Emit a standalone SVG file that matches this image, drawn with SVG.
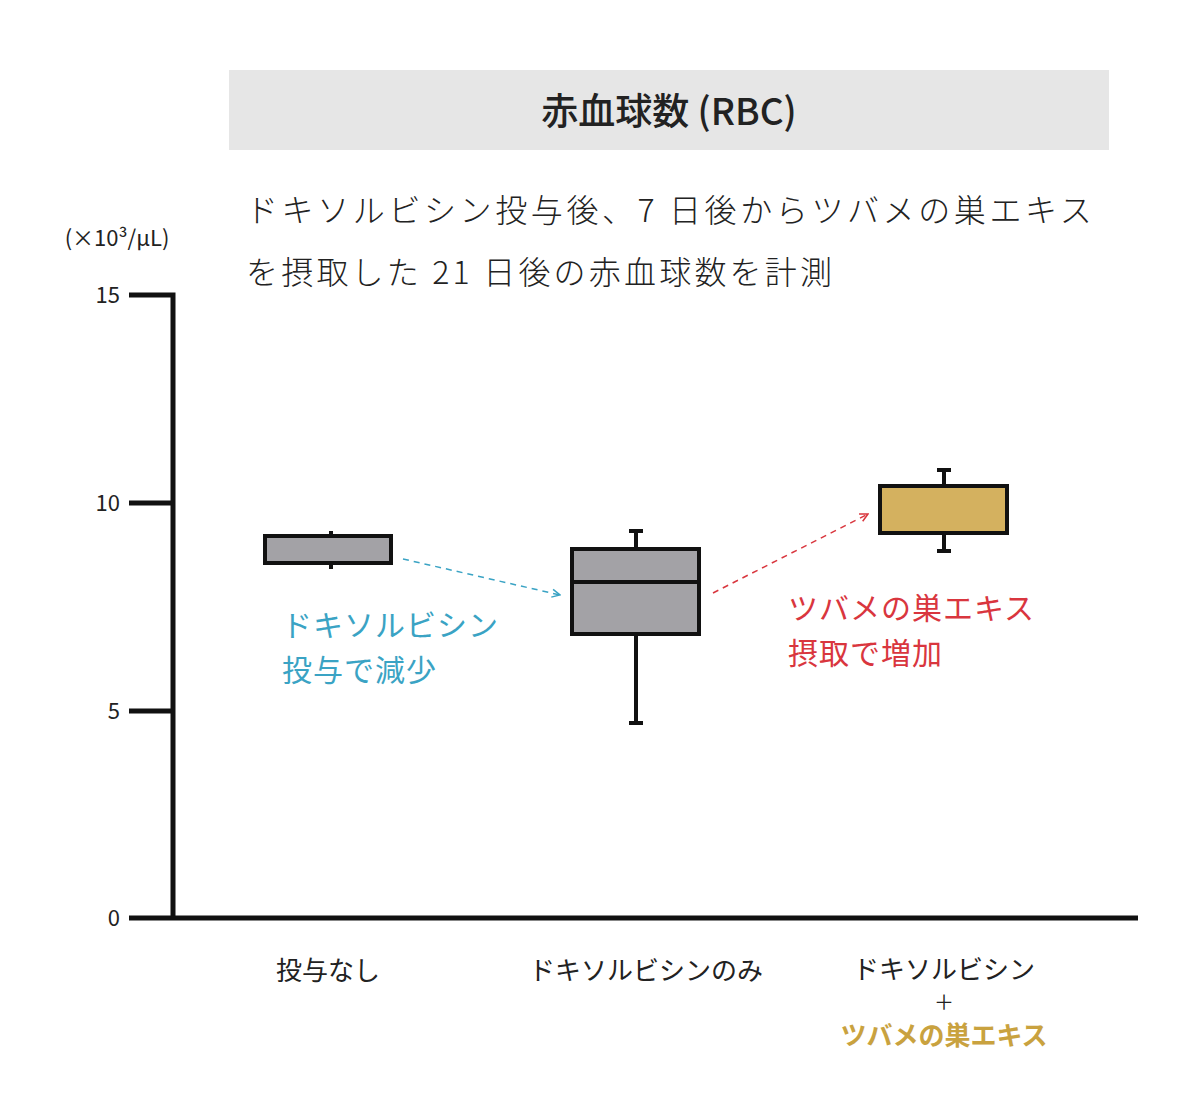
<svg xmlns="http://www.w3.org/2000/svg" width="1200" height="1104" viewBox="0 0 1200 1104">
<style>
text{font-family:"Noto Sans CJK JP","Noto Sans",sans-serif;fill:#222}
.tk{font-size:22px;text-anchor:end}
.ax{stroke:#111;stroke-width:5;fill:none}
.box{stroke:#111;stroke-width:4;fill:#a3a2a6}
.wh{stroke:#111;stroke-width:4}
.cat{font-size:26px;text-anchor:middle}
</style>
<defs>
<marker id="ab" viewBox="0 0 10 10" refX="9" refY="5" markerWidth="10" markerHeight="10" markerUnits="userSpaceOnUse" orient="auto"><path d="M1,1 L9,5 L1,9" fill="none" stroke="#3aa3c4" stroke-width="1.5"/></marker>
<marker id="ar" viewBox="0 0 10 10" refX="9" refY="5" markerWidth="10" markerHeight="10" markerUnits="userSpaceOnUse" orient="auto"><path d="M1,1 L9,5 L1,9" fill="none" stroke="#d9363e" stroke-width="1.5"/></marker>
</defs>
<g id="title"><rect x="229" y="70" width="880" height="80" fill="#e6e6e6"/><text x="669" y="125" font-size="37" text-anchor="middle" font-weight="500">赤血球数 (RBC)</text></g>
<g id="desc"><text x="246" y="222" font-size="32" font-weight="300" letter-spacing="3.6">ドキソルビシン投与後、7 日後からツバメの巣エキス</text><text x="246" y="284" font-size="32" font-weight="300" letter-spacing="3.2">を摂取した 21 日後の赤血球数を計測</text></g>
<g id="axes">
<text x="117" y="246" font-size="22" text-anchor="middle">(×10³/μL)</text>
<path class="ax" d="M129,295 H173 V918 M129,503 H173 M129,711 H173 M129,918 H1138"/>
<text class="tk" x="120" y="303">15</text><text class="tk" x="120" y="511">10</text><text class="tk" x="120" y="719">5</text><text class="tk" x="120" y="926">0</text>
</g>
<g id="box1"><line class="wh" x1="331" y1="531" x2="331" y2="569"/><rect class="box" x="265" y="536" width="126" height="27"/></g>
<g id="box2"><line class="wh" x1="636" y1="530" x2="636" y2="724"/><line class="wh" x1="629" y1="531" x2="643" y2="531"/><line class="wh" x1="629" y1="723" x2="643" y2="723"/><rect class="box" x="572" y="549" width="127" height="85"/><line class="wh" x1="572" y1="582" x2="699" y2="582"/></g>
<g id="box3"><line class="wh" x1="944" y1="469" x2="944" y2="552"/><line class="wh" x1="937" y1="470" x2="951" y2="470"/><line class="wh" x1="937" y1="551" x2="951" y2="551"/><rect class="box" x="880" y="486" width="127" height="47" style="fill:#d4b15f"/></g>
<g id="connectors">
<line x1="403" y1="559" x2="560" y2="595" stroke="#3aa3c4" stroke-width="1.5" stroke-dasharray="6,5" marker-end="url(#ab)"/>
<line x1="713" y1="593" x2="868" y2="514" stroke="#d9363e" stroke-width="1.5" stroke-dasharray="6,5" marker-end="url(#ar)"/>
</g>
<g id="note1"><text x="282" y="636" font-size="30" letter-spacing="1" style="fill:#3aa3c4">ドキソルビシン</text><text x="282" y="681" font-size="30" letter-spacing="1" style="fill:#3aa3c4">投与で減少</text></g>
<g id="note2"><text x="788" y="619" font-size="30" letter-spacing="1" style="fill:#d9363e">ツバメの巣エキス</text><text x="788" y="664" font-size="30" letter-spacing="1" style="fill:#d9363e">摂取で増加</text></g>
<g id="labels">
<text class="cat" x="944" y="979">ドキソルビシン</text>
<text class="cat" x="328" y="980">投与なし</text>
<text class="cat" x="646" y="980">ドキソルビシンのみ</text>
<text x="944" y="1010" font-size="20" text-anchor="middle">＋</text>
<text class="cat" x="944" y="1045" font-weight="bold" style="fill:#c9a23f">ツバメの巣エキス</text>
</g>
</svg>
